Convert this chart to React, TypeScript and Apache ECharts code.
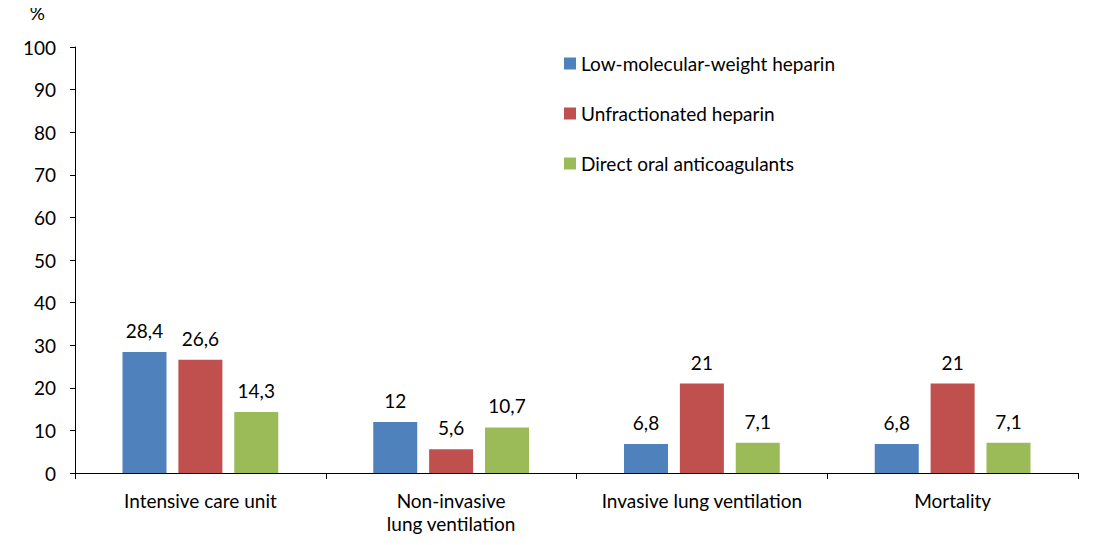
import React, { useEffect, useRef } from "react";
import * as echarts from "echarts";

const categories = ["Intensive care unit", "Non-invasive\nlung ventilation", "Invasive lung ventilation", "Mortality"];
const seriesNames = ["Low-molecular-weight heparin", "Unfractionated heparin", "Direct oral anticoagulants"];
const lmwh = [28.4, 12, 6.8, 6.8];
const ufh = [26.6, 5.6, 21, 21];
const doac = [14.3, 10.7, 7.1, 7.1];
const colors = ["#4F81BD", "#C0504D", "#9BBB59"];

const FONT = "Lato";
const FS = 19;

export default function App() {
  const ref = useRef<HTMLDivElement>(null);
  useEffect(() => {
    if (!ref.current) return;
    const chart = echarts.init(ref.current, null, { renderer: "svg" });
    const values = [lmwh, ufh, doac];
    chart.setOption({
      animation: false,
      textStyle: { fontFamily: FONT },
      grid: { left: 75, right: 34, top: 47, bottom: 72, containLabel: false },
      legend: {
        orient: "vertical",
        left: 559,
        top: 49,
        itemWidth: 12,
        itemHeight: 12,
        itemGap: 31,
        icon: "rect",
        textStyle: { fontFamily: FONT, fontSize: FS, color: "#000" },
        data: seriesNames,
      },
      xAxis: {
        type: "category",
        data: categories,
        axisLine: { lineStyle: { color: "#000", width: 1 } },
        axisTick: { show: true, length: 6, lineStyle: { color: "#000" }, alignWithLabel: false },
        axisLabel: { color: "#000", fontSize: FS, fontFamily: FONT, margin: 16, lineHeight: 23, interval: 0 },
      },
      yAxis: {
        type: "value",
        min: 0,
        max: 100,
        interval: 10,
        name: "%",
        nameLocation: "end",
        nameGap: 25,
        nameTextStyle: { color: "#000", fontSize: FS, fontFamily: FONT, align: "right", padding: [0, 30, 0, 0] },
        axisLine: { show: true, lineStyle: { color: "#000", width: 1 } },
        axisTick: { show: true, length: 5, lineStyle: { color: "#000" } },
        splitLine: { show: false },
        axisLabel: { color: "#000", fontSize: FS, fontFamily: FONT, margin: 19 },
      },
      series: seriesNames.map((name, i) => ({
        name,
        type: "bar",
        data: values[i],
        barWidth: 44,
        barGap: "27%",
        itemStyle: { color: colors[i] },
        label: {
          show: true,
          position: "top",
          distance: 12,
          color: "#000",
          fontSize: FS,
          fontFamily: FONT,
          formatter: (p: any) => String(p.value).replace(".", ","),
        },
      })),
    });
    return () => chart.dispose();
  }, []);
  return <div ref={ref} style={{ width: 1112, height: 545, margin: "-8px 0 0 -8px" }} />;
}
